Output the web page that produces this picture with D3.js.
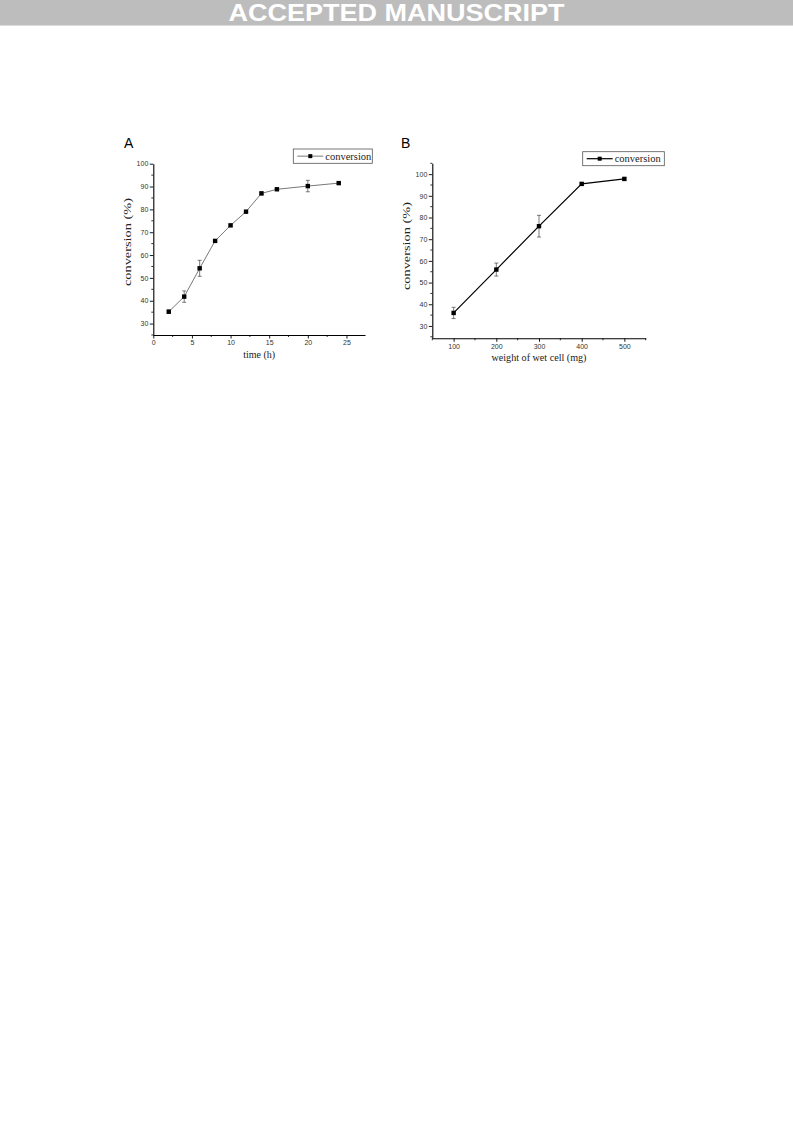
<!DOCTYPE html>
<html><head><meta charset="utf-8">
<script src="https://cdn.jsdelivr.net/npm/d3@7"></script>
<style>body{margin:0;background:#fff}svg{display:block}</style>
</head><body>
<script>
// Panel A data
const timeH = [2, 4, 6, 8, 10, 12, 14, 16, 20, 24];
const convA = [35.2, 41.8, 54.2, 66.2, 73.0, 79.0, 87.0, 88.8, 90.2, 91.5];
const errA  = [0.7, 2.5, 3.5, 0.5, 0.5, 0.5, 0.6, 0.5, 2.5, 0.5];
const xTicksA = [0, 5, 10, 15, 20, 25];
const yTicksA = [30, 40, 50, 60, 70, 80, 90, 100];
// Panel B data
const wetCell = [100, 200, 300, 400, 500];
const convB = [36.0, 56.0, 76.0, 95.5, 97.8];
const errB  = [2.6, 3.0, 5.0, 0.5, 0.5];
const xTicksB = [100, 200, 300, 400, 500];
const yTicksB = [30, 40, 50, 60, 70, 80, 90, 100];

const W = 793, H = 1121;
const svg = d3.select("body").append("svg").attr("width", W).attr("height", H);

// Banner
svg.append("rect").attr("x",0).attr("y",0).attr("width",W).attr("height",25).attr("fill","#bdbdbd");
svg.append("line").attr("x1",0).attr("x2",W).attr("y1",25.5).attr("y2",25.5).attr("stroke","#dadada");
svg.append("text").attr("x",W/2).attr("y",21).attr("text-anchor","middle")
  .attr("font-family","Liberation Sans, Arial, sans-serif").attr("font-weight","bold")
  .attr("font-size",24).attr("fill","#fff").attr("textLength",336).attr("lengthAdjust","spacingAndGlyphs")
  .text("ACCEPTED MANUSCRIPT");

function panel(o){
  const g = svg.append("g");
  const x = d3.scaleLinear().domain(o.xDomain).range([o.left, o.right]);
  const y = d3.scaleLinear().domain(o.yDomain).range([o.bottom, o.top]);
  const tickFont = "Liberation Sans Narrow, Liberation Sans, Arial, sans-serif";
  // x axis
  const xAxis = d3.axisBottom(x).tickValues(o.xTicks).tickSize(3.5).tickPadding(2).tickSizeOuter(0);
  const gx = g.append("g").attr("transform",`translate(0,${o.bottom})`).call(xAxis);
  const xMinor = [];
  for (let v = o.xDomain[0]; v <= o.xDomain[1] + 1e-9; v += o.xMinorStep) if (!o.xTicks.some(t=>Math.abs(t-v)<1e-9)) xMinor.push(v);
  gx.selectAll(".minor").data(xMinor).enter().append("line").attr("class","minor")
    .attr("x1",d=>x(d)).attr("x2",d=>x(d)).attr("y1",0).attr("y2",2).attr("stroke","#000").attr("stroke-width",0.8);
  // y axis
  const yAxis = d3.axisLeft(y).tickValues(o.yTicks).tickSize(3.5).tickPadding(1.5).tickSizeOuter(0);
  const gy = g.append("g").attr("transform",`translate(${o.left},0)`).call(yAxis);
  const yMinor = [];
  for (let v = o.yTicks[0] - 5; v <= o.yDomain[1] + 1e-9; v += 5) if (v >= o.yDomain[0] && !o.yTicks.includes(v)) yMinor.push(v);
  gy.selectAll(".minor").data(yMinor).enter().append("line").attr("class","minor")
    .attr("x1",0).attr("x2",-2).attr("y1",d=>y(d)).attr("y2",d=>y(d)).attr("stroke","#000").attr("stroke-width",0.8);
  [gx, gy].forEach(a=>{
    a.select(".domain").attr("stroke","#000").attr("stroke-width",1.1);
    a.selectAll(".tick line").attr("stroke","#000").attr("stroke-width",0.9);
    a.selectAll(".tick text").attr("font-family",tickFont).attr("font-size",7).attr("fill","#333");
  });
  // line
  const line = d3.line().x(d=>x(d[0])).y(d=>y(d[1]));
  const pts = o.xs.map((v,i)=>[v, o.ys[i], o.es[i]]);
  g.append("path").datum(pts).attr("d",line).attr("fill","none")
    .attr("stroke",o.lineColor).attr("stroke-width",o.lineWidth);
  // error bars
  const eb = g.selectAll(".eb").data(pts).enter().append("g").attr("stroke","#444").attr("stroke-width",0.7);
  eb.append("line").attr("x1",d=>x(d[0])).attr("x2",d=>x(d[0])).attr("y1",d=>y(d[1]+d[2])).attr("y2",d=>y(d[1]-d[2]));
  eb.append("line").attr("x1",d=>x(d[0])-2).attr("x2",d=>x(d[0])+2).attr("y1",d=>y(d[1]+d[2])).attr("y2",d=>y(d[1]+d[2]));
  eb.append("line").attr("x1",d=>x(d[0])-2).attr("x2",d=>x(d[0])+2).attr("y1",d=>y(d[1]-d[2])).attr("y2",d=>y(d[1]-d[2]));
  // markers
  g.selectAll(".mk").data(pts).enter().append("rect")
    .attr("x",d=>x(d[0])-2.2).attr("y",d=>y(d[1])-2.2).attr("width",4.4).attr("height",4.4).attr("fill","#000");
  // axis labels
  const serif = "Liberation Serif, Times New Roman, serif";
  g.append("text").attr("x",(o.left+o.right)/2).attr("y",o.bottom+23).attr("text-anchor","middle")
    .attr("font-family",serif).attr("font-size",o.xLabelSize).attr("fill","#222")
    .attr("textLength",o.xLabelLen).attr("lengthAdjust","spacingAndGlyphs").text(o.xLabel);
  g.append("text").attr("transform",`translate(${o.left-22.5},${o.yLabelY}) rotate(-90)`)
    .attr("text-anchor","middle").attr("font-family",serif).attr("font-size",11).attr("fill","#222")
    .attr("textLength",o.yLabelLen).attr("lengthAdjust","spacingAndGlyphs").text(o.yLabel);
  // panel letter
  g.append("text").attr("x",o.letterX).attr("y",148).attr("font-family","Liberation Sans, Arial, sans-serif")
    .attr("font-size",14).attr("fill","#000").text(o.letter);
  // legend
  const L = o.legend;
  g.append("rect").attr("x",L.x).attr("y",L.y).attr("width",L.w).attr("height",L.h)
    .attr("fill","#fff").attr("stroke","#555").attr("stroke-width",0.8);
  const ly = L.y + L.h/2;
  g.append("line").attr("x1",L.x+4).attr("x2",L.x+4+L.lineLen).attr("y1",ly).attr("y2",ly)
    .attr("stroke",o.lineColor).attr("stroke-width",o.lineWidth);
  g.append("rect").attr("x",L.x+4+L.lineLen/2-2).attr("y",ly-2).attr("width",4).attr("height",4).attr("fill","#000");
  g.append("text").attr("x",L.x+L.lineLen+6).attr("y",ly+3.5).attr("font-family",serif).attr("font-size",10.5)
    .attr("fill","#222").text("conversion");
}

panel({
  xs: timeH, ys: convA, es: errA, xTicks: xTicksA, yTicks: yTicksA,
  xDomain: [0, 27.4], yDomain: [25, 100], xMinorStep: 2.5,
  left: 153.3, right: 365, top: 163.7, bottom: 335,
  lineColor: "#555", lineWidth: 0.8,
  xLabel: "time (h)", yLabel: "conversion (%)", xLabelSize: 11, xLabelLen: 32, yLabelY: 242, yLabelLen: 88,
  letter: "A", letterX: 124,
  legend: {x: 293.3, y: 149, w: 79, h: 14.3, lineLen: 26}
});

panel({
  xs: wetCell, ys: convB, es: errB, xTicks: xTicksB, yTicks: yTicksB,
  xDomain: [50, 550], yDomain: [24.3, 105], xMinorStep: 50,
  left: 432.3, right: 645.7, top: 163.3, bottom: 338.3,
  lineColor: "#000", lineWidth: 1.2,
  xLabel: "weight of wet cell (mg)", yLabel: "conversion (%)", xLabelSize: 11, xLabelLen: 95, yLabelY: 246, yLabelLen: 88,
  letter: "B", letterX: 401,
  legend: {x: 582.7, y: 151.7, w: 81.6, h: 14, lineLen: 26}
});
</script>
</body></html>
